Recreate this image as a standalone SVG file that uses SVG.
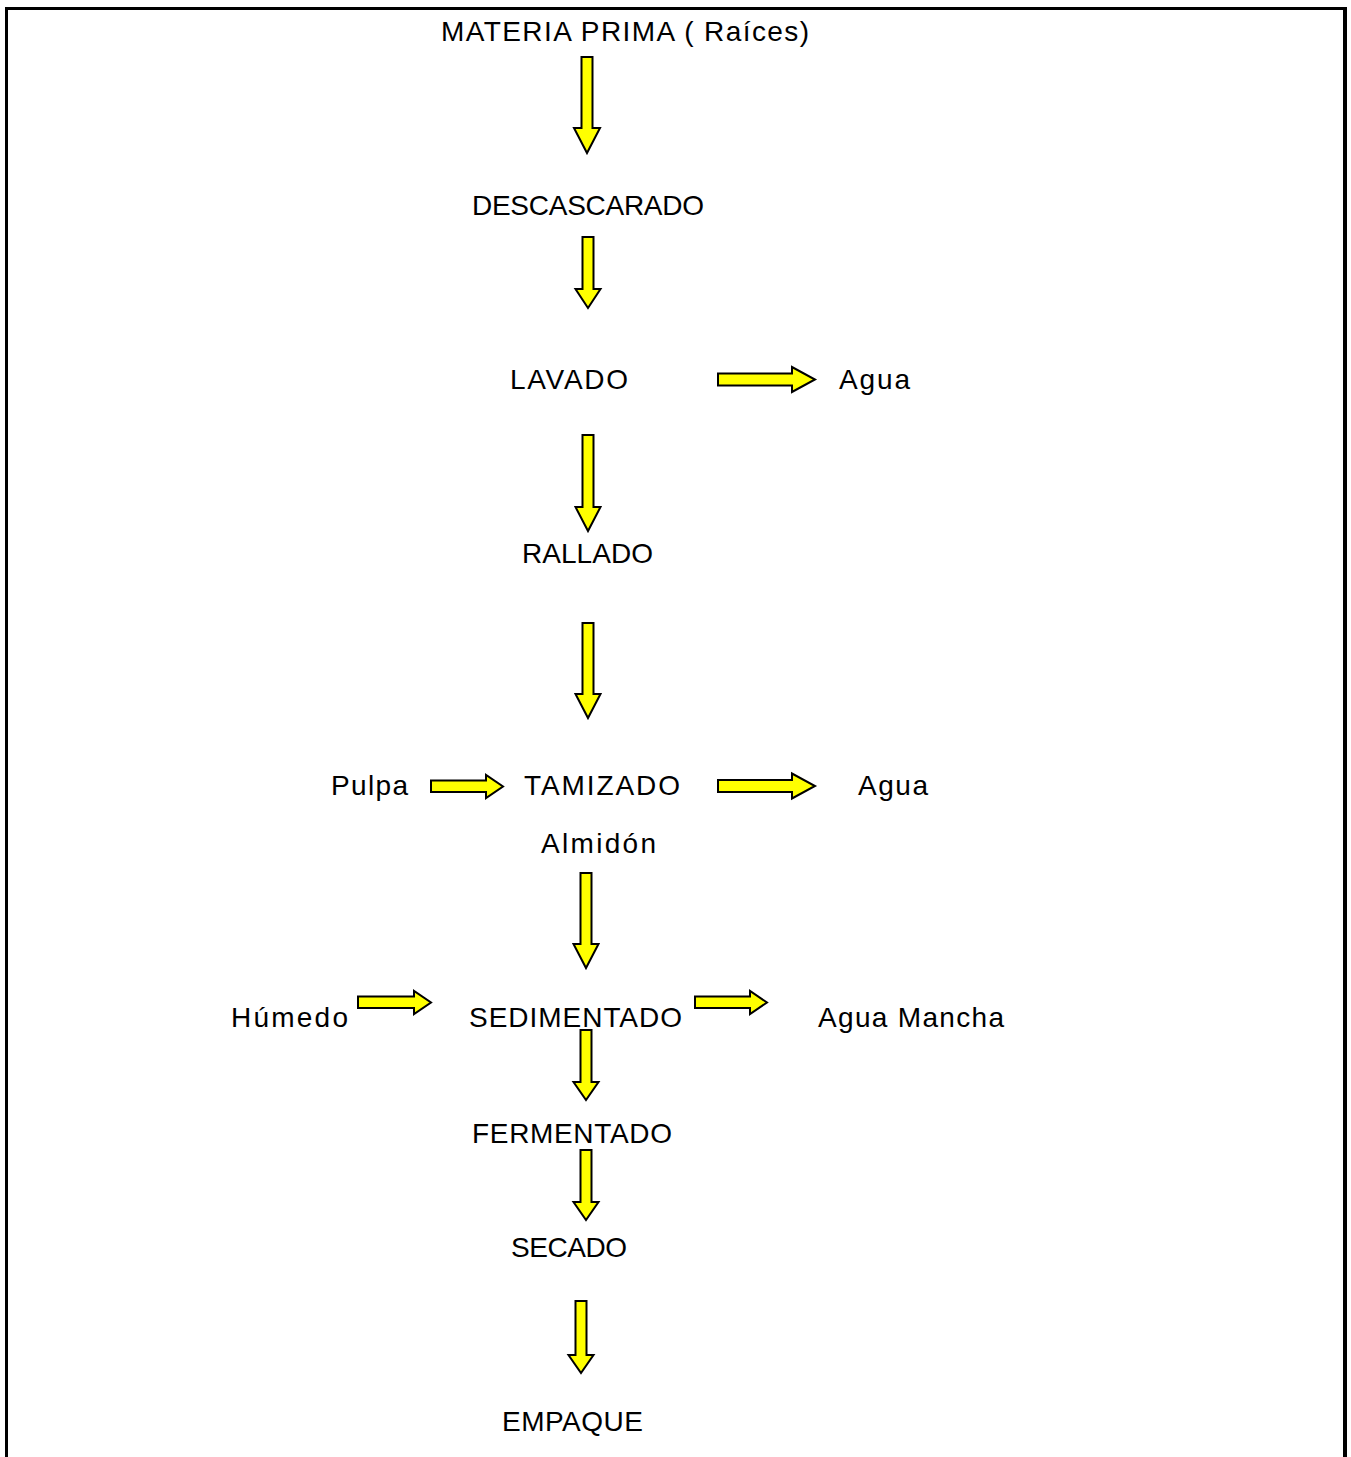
<svg xmlns="http://www.w3.org/2000/svg" width="1351" height="1457" viewBox="0 0 1351 1457">
<style>
  .t { font-family: "Liberation Sans", Arial, sans-serif; font-size: 28px; fill: #000; }
  .arr { fill: #ffff00; stroke: #000; stroke-width: 2; stroke-linejoin: miter; }
  .frame { stroke: #000; fill: none; }
</style>
<rect width="1351" height="1457" fill="#fff"/>
<g id="frame">
  <line class="frame" x1="5" y1="8.5" x2="1347" y2="8.5" stroke-width="3"/>
  <line class="frame" x1="6.5" y1="7" x2="6.5" y2="1457" stroke-width="3"/>
  <line class="frame" x1="1345" y1="7" x2="1345" y2="1457" stroke-width="4"/>
</g>
<g id="connectors">
  <polygon class="arr" points="581.5,57 592.5,57 592.5,128 600,128 587,153 574,128 581.5,128"/>
  <polygon class="arr" points="582.5,237 593.5,237 593.5,289 600.5,289 588,308 575.5,289 582.5,289"/>
  <polygon class="arr" points="582.5,435 593.5,435 593.5,507 600.5,507 588,531 575.5,507 582.5,507"/>
  <polygon class="arr" points="582.5,623 593.5,623 593.5,694 600.5,694 588,718 575.5,694 582.5,694"/>
  <polygon class="arr" points="580.5,873 591.5,873 591.5,944 598.5,944 586,968 573.5,944 580.5,944"/>
  <polygon class="arr" points="580.5,1030 591.5,1030 591.5,1082 598.5,1082 586,1100 573.5,1082 580.5,1082"/>
  <polygon class="arr" points="580.5,1150 591.5,1150 591.5,1202 598.5,1202 586,1220 573.5,1202 580.5,1202"/>
  <polygon class="arr" points="575.5,1301 586.5,1301 586.5,1355 593.5,1355 581,1373 568.5,1355 575.5,1355"/>
  <polygon class="arr" points="718,373.5 792,373.5 792,367 815,379.5 792,392 792,385.5 718,385.5"/>
  <polygon class="arr" points="431,780.5 486,780.5 486,775 503,786.5 486,798 486,792 431,792"/>
  <polygon class="arr" points="718,780 792,780 792,773.5 815,786 792,798.5 792,792 718,792"/>
  <polygon class="arr" points="358,996.5 414,996.5 414,991 431,1002.5 414,1014 414,1008 358,1008"/>
  <polygon class="arr" points="695,996.5 750,996.5 750,991 767,1002.5 750,1014 750,1008 695,1008"/>
</g>
<g id="n-materia"><text class="t" x="441" y="41" textLength="368" lengthAdjust="spacing">MATERIA PRIMA ( Raíces)</text></g>
<g id="n-descascarado"><text class="t" x="472" y="215" textLength="232" lengthAdjust="spacing">DESCASCARADO</text></g>
<g id="n-lavado"><text class="t" x="510" y="389" textLength="118" lengthAdjust="spacing">LAVADO</text></g>
<g id="n-agua1"><text class="t" x="839" y="389" textLength="71" lengthAdjust="spacing">Agua</text></g>
<g id="n-rallado"><text class="t" x="522" y="563" textLength="131" lengthAdjust="spacing">RALLADO</text></g>
<g id="n-pulpa"><text class="t" x="331" y="795" textLength="77" lengthAdjust="spacing">Pulpa</text></g>
<g id="n-tamizado"><text class="t" x="524" y="795" textLength="156" lengthAdjust="spacing">TAMIZADO</text></g>
<g id="n-agua2"><text class="t" x="858" y="795" textLength="70" lengthAdjust="spacing">Agua</text></g>
<g id="n-almidon"><text class="t" x="541" y="853" textLength="115" lengthAdjust="spacing">Almidón</text></g>
<g id="n-humedo"><text class="t" x="231" y="1027" textLength="117" lengthAdjust="spacing">Húmedo</text></g>
<g id="n-sedimentado"><text class="t" x="469" y="1027" textLength="213" lengthAdjust="spacing">SEDIMENTADO</text></g>
<g id="n-aguamancha"><text class="t" x="818" y="1027" textLength="186" lengthAdjust="spacing">Agua Mancha</text></g>
<g id="n-fermentado"><text class="t" x="472" y="1143" textLength="200" lengthAdjust="spacing">FERMENTADO</text></g>
<g id="n-secado"><text class="t" x="511" y="1257" textLength="116" lengthAdjust="spacing">SECADO</text></g>
<g id="n-empaque"><text class="t" x="502" y="1431" textLength="141" lengthAdjust="spacing">EMPAQUE</text></g>
</svg>
